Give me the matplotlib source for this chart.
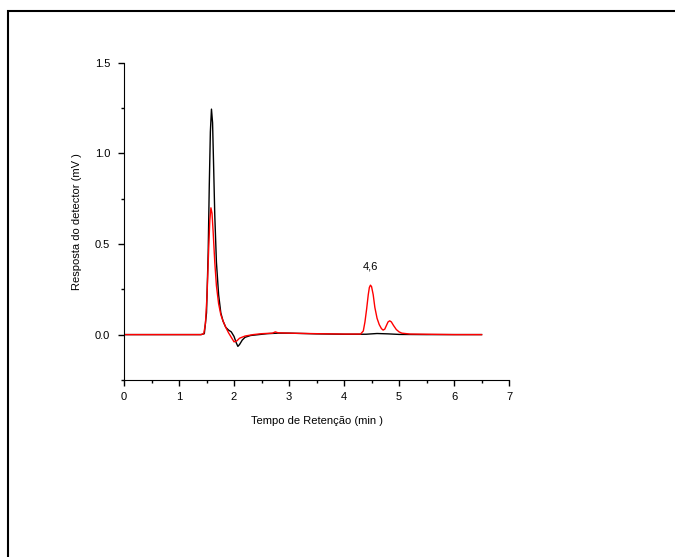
import numpy
from matplotlib import pyplot
from matplotlib.patches import Rectangle
from matplotlib.ticker import MultipleLocator

pyplot.rcParams["font.family"] = ["Liberation Sans", "DejaVu Sans"]

# black trace
t_black = [0, 1.40, 1.46, 1.50, 1.53, 1.55, 1.57, 1.59, 1.61, 1.63, 1.65, 1.68,
           1.72, 1.76, 1.80, 1.85, 1.90, 1.95, 2.00, 2.04, 2.07, 2.10, 2.15, 2.20,
           2.30, 2.45, 2.60, 2.80, 3.00, 3.50, 4.00, 4.40, 4.60, 4.80, 5.00, 5.50,
           6.00, 6.50]
y_black = [0, 0, 0.005, 0.12, 0.45, 0.82, 1.12, 1.245, 1.17, 0.92, 0.66, 0.40,
           0.22, 0.12, 0.075, 0.04, 0.025, 0.015, -0.01, -0.045, -0.065, -0.055,
           -0.03, -0.015, -0.005, 0.0, 0.005, 0.008, 0.008, 0.004, 0.002, 0.002,
           0.006, 0.004, 0.001, 0.0, 0.0, 0.0]

# red trace
t_red = [0, 1.40, 1.45, 1.48, 1.51, 1.54, 1.56, 1.58, 1.60, 1.62, 1.65, 1.68,
         1.72, 1.76, 1.80, 1.85, 1.90, 1.95, 2.00, 2.05, 2.10, 2.20, 2.35, 2.50,
         2.70, 2.75, 2.80, 3.00, 3.50, 4.00, 4.30, 4.35, 4.38, 4.41, 4.44, 4.46,
         4.48, 4.50, 4.53, 4.56, 4.60, 4.64, 4.68, 4.71, 4.74, 4.77, 4.80, 4.83,
         4.86, 4.90, 4.95, 5.00, 5.05, 5.20, 5.50, 6.00, 6.50]
y_red = [0, 0, 0.005, 0.06, 0.22, 0.48, 0.63, 0.70, 0.67, 0.57, 0.40, 0.27,
         0.17, 0.11, 0.075, 0.04, 0.01, -0.015, -0.04, -0.035, -0.02, -0.008,
         0.0, 0.005, 0.008, 0.015, 0.01, 0.008, 0.005, 0.003, 0.003, 0.02, 0.07,
         0.14, 0.22, 0.26, 0.273, 0.265, 0.22, 0.15, 0.09, 0.055, 0.033, 0.025,
         0.03, 0.05, 0.07, 0.076, 0.07, 0.05, 0.028, 0.015, 0.008, 0.003, 0.002,
         0.0, 0.0]

peak_label = "4,6"
peak_pos = (4.48, 0.35)

fig = pyplot.figure(figsize=(6.75, 5.57), dpi=100)
axes = fig.add_axes([0.1837, 0.318, 0.5705, 0.569])

axes.plot(t_black, y_black, color="black", lw=1.0)
axes.plot(t_red, y_red, color="red", lw=1.0)
axes.text(peak_pos[0], peak_pos[1], peak_label, ha="center", va="bottom", fontsize=8)

axes.set_xlim(0, 7)
axes.set_ylim(-0.25, 1.5)
axes.xaxis.set_major_locator(MultipleLocator(1))
axes.xaxis.set_minor_locator(MultipleLocator(0.5))
axes.yaxis.set_major_locator(MultipleLocator(0.5))
axes.yaxis.set_minor_locator(MultipleLocator(0.25))
axes.yaxis.set_major_formatter(pyplot.FormatStrFormatter("%.1f"))
axes.spines["top"].set_visible(False)
axes.spines["right"].set_visible(False)
axes.tick_params(which="major", direction="out", length=4, width=1, labelsize=8)
axes.tick_params(axis="x", which="major", pad=5)
axes.tick_params(axis="y", which="major", pad=6)
axes.tick_params(which="minor", direction="out", length=2.5, width=1)

axes.set_xlabel("Tempo de Retenção (min )", fontsize=8, labelpad=10)
axes.set_ylabel("Resposta do detector (mV )", fontsize=8, labelpad=9)

fig.patches.append(Rectangle((8 / 675, -0.1), 1.2, 1.1 - 11 / 557,
                             transform=fig.transFigure, fill=False,
                             edgecolor="black", lw=1.5))

fig.savefig("out.png", dpi=100)
